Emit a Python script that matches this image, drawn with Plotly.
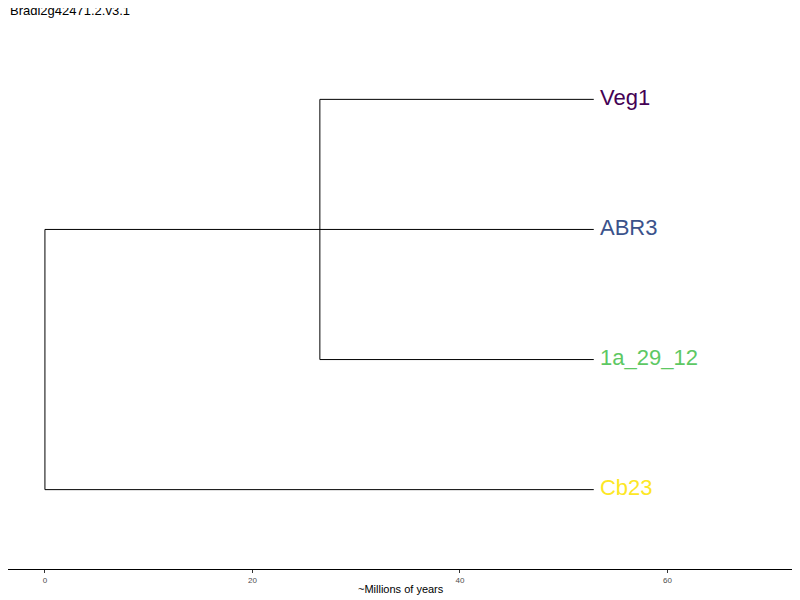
import plotly.graph_objects as go

tips = ["Veg1", "ABR3", "1a_29_12", "Cb23"]
tip_y = [4, 3, 2, 1]
tip_x = [52.9, 52.9, 52.9, 52.9]
tip_colors = ["#440154", "#3B528B", "#5DC863", "#FDE725"]
# parent node x for each tip branch
parent_x = [26.5, 0.0, 26.5, 0.0]
# internal vertical connectors: (x, y_low, y_high)
node_x = [0.0, 26.5]
node_ylo = [1, 2]
node_yhi = [3, 4]

fig = go.Figure()
xs, ys = [], []
for px, tx, ty in zip(parent_x, tip_x, tip_y):
    xs += [px, tx, None]
    ys += [ty, ty, None]
for nx, lo, hi in zip(node_x, node_ylo, node_yhi):
    xs += [nx, nx, None]
    ys += [lo, hi, None]
fig.add_trace(go.Scatter(x=xs, y=ys, mode="lines",
                         line=dict(color="black", width=1), hoverinfo="skip"))
fig.add_trace(go.Scatter(x=[x + 0.6 for x in tip_x], y=tip_y, mode="text",
                         text=tips, textposition="middle right",
                         textfont=dict(size=22, color=tip_colors,
                                       family="Liberation Sans")))

fig.update_layout(
    width=800, height=600, showlegend=False,
    plot_bgcolor="white", paper_bgcolor="white",
    margin=dict(l=0, r=14, t=12, b=39),
    font=dict(family="Liberation Sans"),
    xaxis=dict(range=[-3.56, 72.2], tickvals=[0, 20, 40, 60],
               showgrid=False, zeroline=False, showline=True,
               linecolor="black", linewidth=1, ticks="outside", ticklen=3,
               tickcolor="#333", tickfont=dict(size=8, color="#4d4d4d")),
    yaxis=dict(range=[0.39, 4.61], visible=False),
    annotations=[
        dict(text="Bradi2g42471.2.v3.1", xref="paper", yref="paper",
             x=0, y=1, xanchor="left", yanchor="middle", yshift=10,
             showarrow=False, font=dict(size=13, color="black")),
        dict(text="~Millions of years", xref="paper", yref="paper",
             x=0.5, y=0, xanchor="center", yanchor="middle", yshift=-20,
             showarrow=False, font=dict(size=11, color="black")),
    ],
)
fig.write_html("out.html")
